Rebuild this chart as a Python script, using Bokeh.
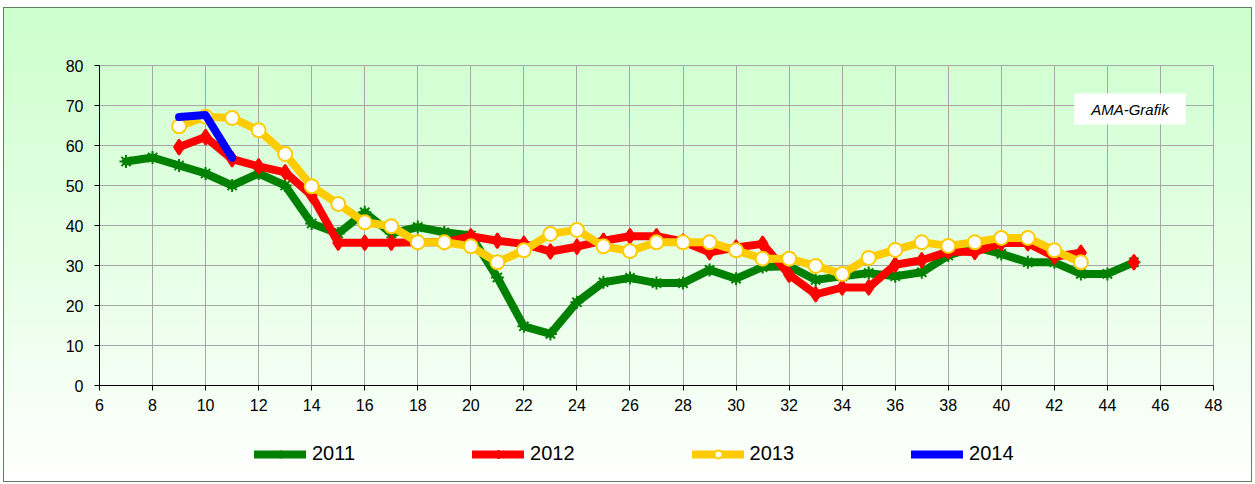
from bokeh.plotting import figure
from bokeh.layouts import column
from bokeh.models import Range1d, SingleIntervalTicker, Legend, LegendItem, Label
from bokeh.embed import file_html
from bokeh.resources import INLINE

nan = float("nan")

weeks_2011 = list(range(7, 46))
vals_2011 = [56, 57, 55, 53, 50, 53, 50, 40.5, 38, 43.3, 38, 39.6, 38.3, 37.5, 27, 14.8, 12.9,
             20.8, 25.8, 26.9, 25.6, 25.6, 28.9, 26.7, 29.6, 29.8, 26.4, 27.3, 28.1, 27.3, 28.3,
             32.5, 34.6, 32.9, 30.8, 30.8, 27.9, 27.9, 30.8]

weeks_2012 = list(range(9, 46))
vals_2012 = [59.6, 62.1, 56.6, 54.8, 53.3, 47.5, 35.7, 35.7, 35.7, 35.8, 35.8, 37.3, 36.2, 35.4,
             33.5, 34.7, 36.2, 37.3, 37.3, 36, 33.3, 34.5, 35.4, 27.7, 22.8, 24.5, 24.5, 30.2,
             31.3, 33.5, 33.4, 35.6, 35.6, 32.2, 33.2, nan, 30.8]

weeks_2013 = list(range(9, 44))
vals_2013 = [64.8, 67.2, 66.9, 63.8, 57.9, 49.8, 45.4, 40.8, 39.8, 35.8, 35.8, 34.8, 30.8, 33.8,
             37.9, 38.9, 34.8, 33.6, 35.8, 35.8, 35.8, 33.8, 31.7, 31.7, 29.9, 27.9, 31.9, 33.9,
             35.8, 34.9, 35.8, 36.9, 36.9, 33.8, 30.8]

weeks_2014 = [9, 10, 11]
vals_2014 = [67.1, 67.6, 56.9]

series_labels = ["2011", "2012", "2013", "2014"]

x_ticks_interval = 2
y_ticks_interval = 10

p = figure(width=1249, height=418, output_backend="svg", toolbar_location=None,
           x_range=Range1d(6, 48), y_range=Range1d(0, 80),
           min_border_left=96, min_border_right=39, min_border_top=58, min_border_bottom=40)
p.border_fill_color = None
p.background_fill_color = None
p.outline_line_color = "#a6a6a6"

for ax in (p.xaxis[0], p.yaxis[0]):
    ax.axis_line_color = "black"
    ax.axis_line_width = 1
    ax.major_tick_line_color = "black"
    ax.major_tick_in = 0
    ax.major_tick_out = 5
    ax.minor_tick_line_color = None
    ax.major_label_text_font = "Liberation Sans"
    ax.major_label_text_font_size = "16px"
    ax.major_label_text_color = "black"

p.xaxis.ticker = SingleIntervalTicker(interval=x_ticks_interval)
p.yaxis.ticker = SingleIntervalTicker(interval=y_ticks_interval)
p.xaxis.major_label_standoff = 8
p.yaxis.major_label_standoff = 11

p.xgrid.ticker = SingleIntervalTicker(interval=x_ticks_interval)
p.ygrid.ticker = SingleIntervalTicker(interval=y_ticks_interval)
p.grid.grid_line_color = "#a6a6a6"
p.grid.grid_line_width = 1

# legend-only strip below the chart
p2 = figure(width=1249, height=57, output_backend="svg", toolbar_location=None,
            x_range=Range1d(0, 1), y_range=Range1d(0, 1),
            x_axis_location=None, y_axis_location=None,
            min_border_left=0, min_border_right=0, min_border_top=0, min_border_bottom=0)
p2.border_fill_color = None
p2.background_fill_color = None
p2.outline_line_color = None
p2.grid.visible = False


def add_series(fig, xs, ys, color, marker=None, msize=None, mfill=None, visible=True):
    rs = [fig.line(xs, ys, line_color=color, line_width=8, line_join="round", line_cap="round",
                   visible=visible)]
    if marker is not None:
        rs.append(fig.scatter(xs, ys, marker=marker, size=msize, fill_color=mfill,
                              line_color=color, line_width=2, visible=visible))
    return rs


specs = [
    (weeks_2011, vals_2011, "#008000", "asterisk", 13, None),
    (weeks_2012, vals_2012, "#ff0000", "diamond", 15, "#ff0000"),
    (weeks_2013, vals_2013, "#ffcc00", "circle", 14, "white"),
    (weeks_2014, vals_2014, "#0000ff", None, None, None),
]

items = []
for (xs, ys, color, marker, msize, mfill), lbl in zip(specs, series_labels):
    add_series(p, xs, ys, color, marker, msize, mfill)
    rs = add_series(p2, xs, ys, color, marker, msize, mfill, visible=False)
    items.append(LegendItem(label=lbl, renderers=rs))

legend = Legend(items=items, orientation="horizontal", location=(155, 17),
                glyph_width=52, glyph_height=20, label_standoff=6, spacing=117,
                padding=0, margin=0, background_fill_alpha=0, border_line_color=None,
                label_text_font="Liberation Sans", label_text_font_size="20px",
                label_text_color="black")
p2.add_layout(legend, "center")

lab = Label(x=44.85, y=69.1, text="AMA-Grafik", text_align="center", text_baseline="middle",
            text_font="Liberation Sans", text_font_style="italic", text_font_size="15px",
            text_color="black", background_fill_color="white", padding=(17, 7))
p.add_layout(lab)

layout = column(p, p2, spacing=0)
layout.styles = {"background-image": "linear-gradient(to bottom, #ccffcc 0%, #e6ffe6 55%, #ffffff 100%)",
                 "box-shadow": "inset 0 0 0 1px #5f7f5f",
                 "transform": "translate(3px, 7px)"}

open("out.html", "w").write(file_html(layout, INLINE))
